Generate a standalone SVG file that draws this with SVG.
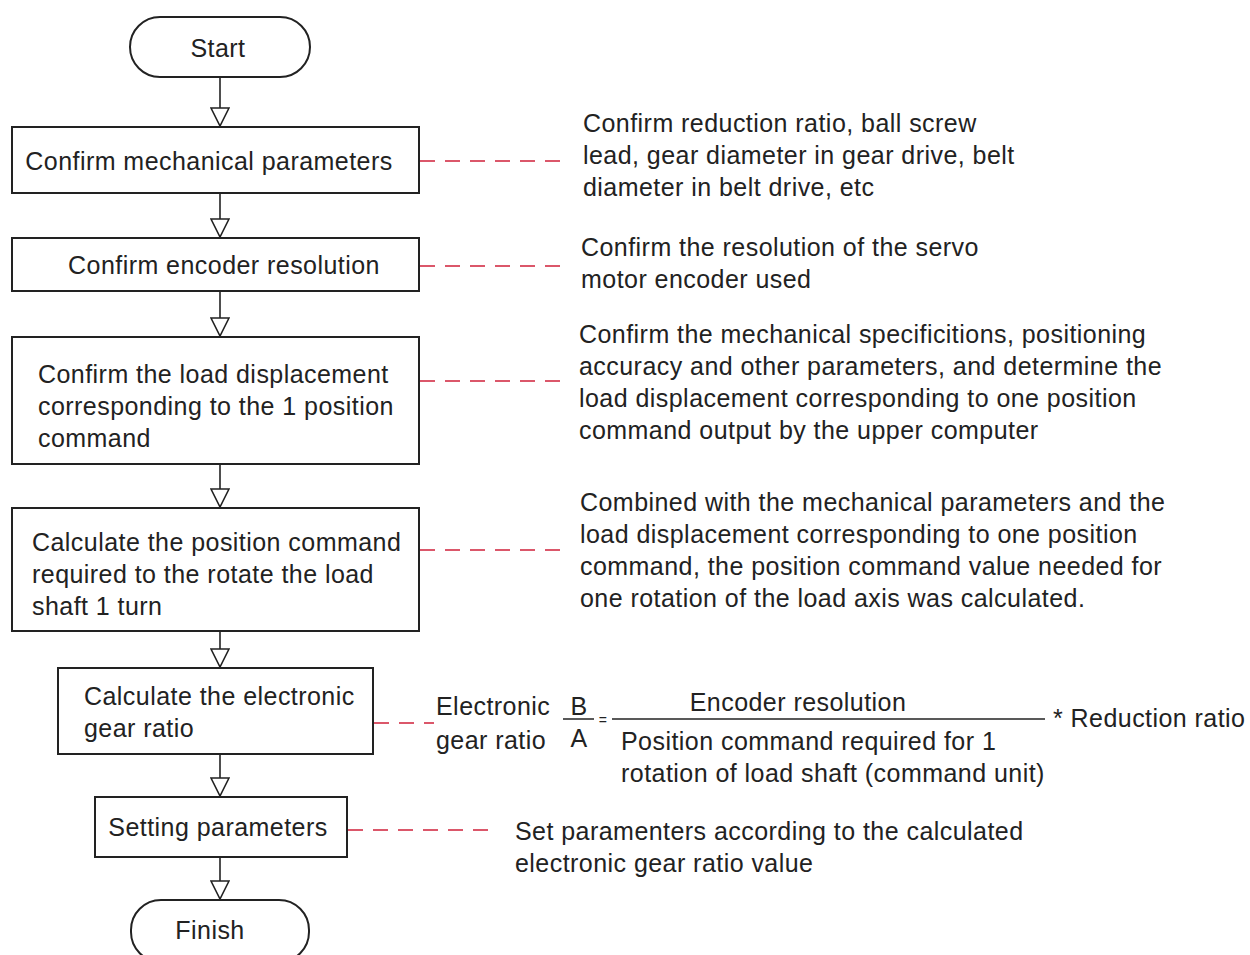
<svg xmlns="http://www.w3.org/2000/svg" width="1250" height="955" viewBox="0 0 1250 955">
<style>
text{font-family:"Liberation Sans",Arial,sans-serif;font-size:25px;letter-spacing:0.45px;fill:#222}
.box{fill:#fff;stroke:#222;stroke-width:2}
.flow{stroke:#222;stroke-width:1.6;fill:none}
.dash{stroke:#d0203a;stroke-width:1.6;stroke-dasharray:15 10;fill:none}
.mid{text-anchor:middle}
</style>
<defs>
<marker id="tri" viewBox="0 0 20 20" refX="20" refY="10" markerWidth="20" markerHeight="20" markerUnits="userSpaceOnUse" orient="auto">
<path d="M1,1 L19,10 L1,19 Z" fill="#fff" stroke="#222" stroke-width="1.6"/>
</marker>
</defs>
<rect width="1250" height="955" fill="#fff"/>
<g id="connectors">
<line class="flow" x1="220" y1="77" x2="220" y2="127" marker-end="url(#tri)"/>
<line class="flow" x1="220" y1="193" x2="220" y2="238" marker-end="url(#tri)"/>
<line class="flow" x1="220" y1="291" x2="220" y2="337" marker-end="url(#tri)"/>
<line class="flow" x1="220" y1="464" x2="220" y2="508" marker-end="url(#tri)"/>
<line class="flow" x1="220" y1="631" x2="220" y2="668" marker-end="url(#tri)"/>
<line class="flow" x1="220" y1="754" x2="220" y2="797" marker-end="url(#tri)"/>
<line class="flow" x1="220" y1="857" x2="220" y2="900" marker-end="url(#tri)"/>
<line class="dash" x1="420" y1="161" x2="567" y2="161"/>
<line class="dash" x1="420" y1="266" x2="567" y2="266"/>
<line class="dash" x1="420" y1="381" x2="567" y2="381"/>
<line class="dash" x1="420" y1="550" x2="567" y2="550"/>
<line class="dash" x1="374" y1="723" x2="434" y2="723"/>
<line class="dash" x1="348" y1="830" x2="495" y2="830"/>
</g>
<g id="start">
<rect class="box" x="130" y="17" width="180" height="60" rx="30" ry="30"/>
<text class="mid" x="218" y="57">Start</text>
</g>
<g id="n1">
<rect class="box" x="12" y="127" width="407" height="66"/>
<text class="mid" x="209" y="170">Confirm mechanical parameters</text>
</g>
<g id="n2">
<rect class="box" x="12" y="238" width="407" height="53"/>
<text class="mid" x="224" y="274">Confirm encoder resolution</text>
</g>
<g id="n3">
<rect class="box" x="12" y="337" width="407" height="127"/>
<text x="38" y="383">Confirm the load displacement</text>
<text x="38" y="415">corresponding to the 1 position</text>
<text x="38" y="447">command</text>
</g>
<g id="n4">
<rect class="box" x="12" y="508" width="407" height="123"/>
<text x="32" y="551">Calculate the position command</text>
<text x="32" y="583">required to the rotate the load</text>
<text x="32" y="615">shaft 1 turn</text>
</g>
<g id="n5">
<rect class="box" x="58" y="668" width="315" height="86"/>
<text x="84" y="705">Calculate the electronic</text>
<text x="84" y="737">gear ratio</text>
</g>
<g id="n6">
<rect class="box" x="95" y="797" width="252" height="60"/>
<text class="mid" x="218" y="836">Setting parameters</text>
</g>
<g id="finish">
<rect class="box" x="131" y="900" width="178" height="62" rx="30" ry="30"/>
<text class="mid" x="210" y="939">Finish</text>
</g>
<g id="notes">
<text x="583" y="132">Confirm reduction ratio, ball screw</text>
<text x="583" y="164">lead, gear diameter in gear drive, belt</text>
<text x="583" y="196">diameter in belt drive, etc</text>
<text x="581" y="256">Confirm the resolution of the servo</text>
<text x="581" y="288">motor encoder used</text>
<text x="579" y="343">Confirm the mechanical specificitions, positioning</text>
<text x="579" y="375">accuracy and other parameters, and determine the</text>
<text x="579" y="407">load displacement corresponding to one position</text>
<text x="579" y="439">command output by the upper computer</text>
<text x="580" y="511">Combined with the mechanical parameters and the</text>
<text x="580" y="543">load displacement corresponding to one position</text>
<text x="580" y="575">command, the position command value needed for</text>
<text x="580" y="607">one rotation of the load axis was calculated.</text>
<text x="515" y="840">Set paramenters according to the calculated</text>
<text x="515" y="872">electronic gear ratio value</text>
</g>
<g id="formula">
<text x="436" y="715">Electronic</text>
<text x="436" y="749">gear ratio</text>
<text class="mid" x="579" y="715">B</text>
<line x1="563" y1="719" x2="594" y2="719" stroke="#222" stroke-width="1.5"/>
<text class="mid" x="579" y="747">A</text>
<text class="mid" x="603" y="725" style="font-size:14px">=</text>
<line x1="612" y1="719" x2="1045" y2="719" stroke="#222" stroke-width="1.5"/>
<text class="mid" x="798" y="711">Encoder resolution</text>
<text x="621" y="750">Position command required for 1</text>
<text x="621" y="782">rotation of load shaft (command unit)</text>
<text x="1053" y="727">* Reduction ratio</text>
</g>
</svg>
